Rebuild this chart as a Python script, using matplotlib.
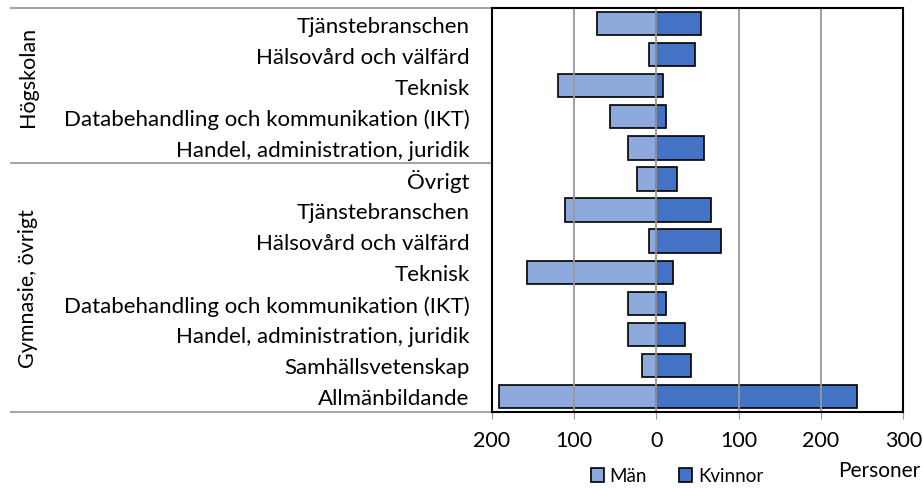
import matplotlib
matplotlib.use("Agg")
import matplotlib.pyplot as plt
from matplotlib.patches import Patch
from matplotlib.lines import Line2D
import matplotlib.transforms as mtrans
import numpy as np

plt.rcParams['font.family'] = ['Lato', 'DejaVu Sans']

groups = ["Högskolan", "Gymnasie, övrigt"]
categories = [
    "Tjänstebranschen", "Hälsovård och välfärd", "Teknisk",
    "Databehandling och kommunikation (IKT)", "Handel, administration, juridik",
    "Övrigt", "Tjänstebranschen", "Hälsovård och välfärd", "Teknisk",
    "Databehandling och kommunikation (IKT)", "Handel, administration, juridik",
    "Samhällsvetenskap", "Allmänbildande",
]
group_sizes = [5, 8]
men = [-72, -9, -119, -56, -34, -24, -111, -9, -157, -34, -34, -17, -191]
women = [54, 47, 8, 12, 58, 25, 66, 78, 20, 12, 35, 42, 244]
xticks = [-200, -100, 0, 100, 200, 300]
xtick_labels = ["200", "100", "0", "100", "200", "300"]

c_men = "#8EA9DB"
c_women = "#4472C4"

W, H = 923, 489
fig = plt.figure(figsize=(W / 100, H / 100), dpi=100)
ax = fig.add_axes([491.7 / W, 1 - 413 / H, (903.3 - 491.7) / W, (413 - 9) / H])

y = np.arange(len(categories))
ax.barh(y, men, height=0.75, color=c_men, edgecolor="black", linewidth=1.2, zorder=2)
ax.barh(y, women, height=0.75, color=c_women, edgecolor="black", linewidth=1.2, zorder=2)

ax.set_xlim(-200, 300)
ax.set_ylim(len(categories) - 0.5, -0.5)
ax.set_xticks(xticks)
ax.set_xticklabels(xtick_labels, fontsize=15.5)
ax.set_yticks(y)
ax.set_yticklabels(categories, fontsize=16)
ax.tick_params(axis="y", length=0, pad=16)
ax.tick_params(axis="x", length=5, color="#999999", pad=8)
for xv in xticks:
    ax.axvline(xv, color="#999999", linewidth=1.3, zorder=3)
for s in ax.spines.values():
    s.set_color("black")
    s.set_linewidth(1.5)
    s.set_zorder(4)

# group separators and labels
tr = mtrans.blended_transform_factory(fig.transFigure, ax.transData)
x0 = 11 / W
x1 = 491.7 / W
bounds = [-0.5]
for n in group_sizes:
    bounds.append(bounds[-1] + n)
for b in bounds:
    ax.add_line(Line2D([x0, x1], [b, b], transform=tr, color="#a6a6a6",
                       linewidth=1.5, clip_on=False))
label_shift = [-0.3, 0.0]
for g, a, b, sh in zip(groups, bounds[:-1], bounds[1:], label_shift):
    ax.text(28 / W, (a + b) / 2 + sh, g, transform=tr, rotation=90, ha="center",
            va="center", fontsize=15.5)

handles = [Patch(facecolor=c_men, edgecolor="black", linewidth=1.2, label="Män"),
           Patch(facecolor=c_women, edgecolor="black", linewidth=1.2, label="Kvinnor")]
fig.legend(handles=handles, loc="center", bbox_to_anchor=(677 / W, 1 - 477 / H),
           ncol=2, frameon=False, fontsize=13.5, handlelength=0.7, handleheight=0.7,
           handletextpad=0.3, columnspacing=1.7)
fig.text(920 / W, 1 - 471 / H, "Personer", ha="right", va="center", fontsize=15)

fig.savefig("out.png", dpi=100)
